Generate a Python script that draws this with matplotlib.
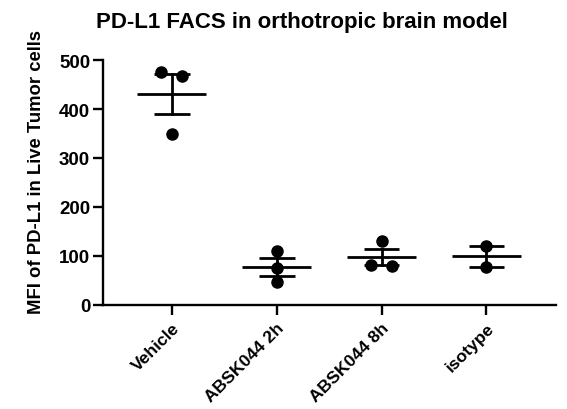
import numpy as np
import matplotlib.pyplot as plt
import matplotlib.transforms as mtransforms

plt.rcParams['font.family'] = ['Liberation Sans', 'DejaVu Sans']
plt.rcParams['font.weight'] = 'bold'

groups = ["Vehicle", "ABSK044 2h", "ABSK044 8h", "isotype"]
values = [
    [475, 467, 350],
    [110, 76, 47],
    [130, 82, 80],
    [121, 77],
]
# horizontal jitter of the dots, in category units
offsets = [
    [-0.1, 0.1, 0.0],
    [0.0, 0.0, 0.0],
    [0.0, -0.1, 0.1],
    [0.0, 0.0],
]
title = "PD-L1 FACS in orthotropic brain model"
ylabel = "MFI of PD-L1 in Live Tumor cells"

fig = plt.figure(figsize=(5.67, 4.10), dpi=100)
ax = fig.add_axes([0.181, 0.2537, 0.799, 0.5975])

lw = 2.0
for i, vals in enumerate(values):
    v = np.array(vals, dtype=float)
    m = v.mean()
    sem = v.std(ddof=1) / np.sqrt(len(v))
    xs = i + np.array(offsets[i])
    ax.plot(xs, v, 'o', color='black', markersize=8, zorder=3)
    ax.plot([i - 0.33, i + 0.33], [m, m], color='black', lw=lw, solid_capstyle='butt')
    ax.plot([i, i], [m - sem, m + sem], color='black', lw=lw)
    for e in (m - sem, m + sem):
        ax.plot([i - 0.17, i + 0.17], [e, e], color='black', lw=lw, solid_capstyle='butt')

ax.set_xlim(-0.66, 3.66)
ax.set_ylim(0, 500)
ax.set_yticks([0, 100, 200, 300, 400, 500])
ax.set_xticks(range(len(groups)))
ax.set_xticklabels(groups, rotation=45, ha='right', rotation_mode='anchor', fontsize=12.6, fontweight='bold')
for lab in ax.get_yticklabels():
    lab.set_fontsize(13.5)
    lab.set_fontweight('bold')

# nudge the slanted labels a little left like the original
shift = mtransforms.ScaledTranslation(-4 / 100, 0, fig.dpi_scale_trans)
for lab in ax.get_xticklabels():
    lab.set_transform(lab.get_transform() + shift)

for s in ['top', 'right']:
    ax.spines[s].set_visible(False)
for s in ['left', 'bottom']:
    ax.spines[s].set_linewidth(1.7)
ax.tick_params(axis='both', length=7, width=1.7, pad=2)
ax.tick_params(axis='x', pad=4)

ax.set_ylabel(ylabel, fontsize=13.3, fontweight='bold')
ax.yaxis.set_label_coords(-0.127, 0.547)
fig.text(0.532, 0.945, title, ha='center', va='center', fontsize=16, fontweight='bold')

fig.savefig("out.png", dpi=100)
